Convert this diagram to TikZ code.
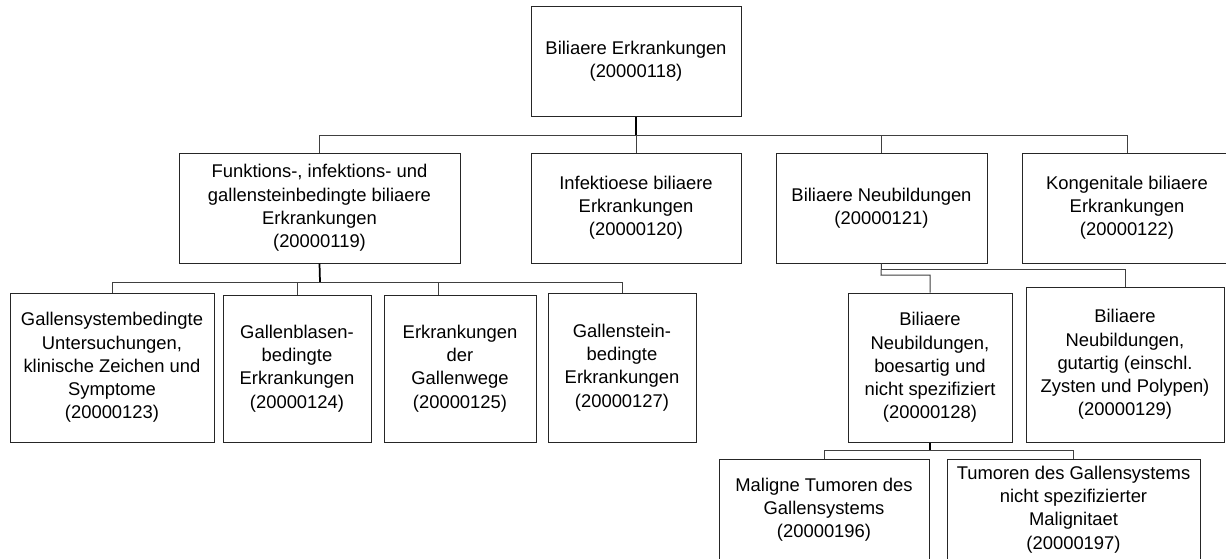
\documentclass[tikz,border=0pt]{standalone}
\usepackage{fontspec}
\setmainfont{Liberation Sans}
\usepackage{tikz}

\tikzset{
  orgbox/.style={draw=black!85, line width=0.75pt, align=center, inner sep=0pt,
    font=\fontsize{13.8}{17.4}\selectfont},
  boxsize/.style 2 args={minimum width=#1*0.75pt, minimum height=#2*0.75pt},
  link/.style={draw=black!75, line width=0.75pt},
  stem/.style={draw=black, line width=1.3pt}
}

\begin{document}
\begin{tikzpicture}[x=0.75pt,y=-0.75pt]
        \useasboundingbox (0,0) rectangle (1226,558);
        \clip (0,0) rectangle (1226,558);
        \fill[white] (0,0) rectangle (1226,558);

        \node[orgbox, boxsize={210}{110}] (root) at (636,61) {Biliaere Erkrankungen\\(20000118)};

        \node[orgbox, boxsize={281}{110}] (fkt) at (319.5,208) {Funktions-, infektions- und\\gallensteinbedingte biliaere\\Erkrankungen\\(20000119)};
        \node[orgbox, boxsize={210}{110}] (inf) at (636,208) {Infektioese biliaere\\Erkrankungen\\(20000120)};
        \node[orgbox, boxsize={211}{110}] (neu) at (881.5,208) {Biliaere Neubildungen\\(20000121)};
        \node[orgbox, boxsize={210}{110}] (kon) at (1127,208) {Kongenitale biliaere\\Erkrankungen\\(20000122)};

        \node[orgbox, boxsize={204}{149}] (b123) at (112,367.5) {Gallensystembedingte\\Untersuchungen,\\klinische Zeichen und\\Symptome\\(20000123)};
        \node[orgbox, boxsize={148}{147}] (b124) at (297,368.5) {Gallenblasen-\\bedingte\\Erkrankungen\\(20000124)};
        \node[orgbox, boxsize={152}{147}] (b125) at (460,368.5) {Erkrankungen\\der\\Gallenwege\\(20000125)};
        \node[orgbox, boxsize={148}{149}] (b127) at (622,367.5) {Gallenstein-\\bedingte\\Erkrankungen\\(20000127)};

        \node[orgbox, boxsize={164}{149}] (b128) at (930,367.5) {Biliaere\\Neubildungen,\\boesartig und\\nicht spezifiziert\\(20000128)};
        \node[orgbox, boxsize={198}{155}] (b129) at (1125,364.5) {Biliaere\\Neubildungen,\\gutartig (einschl.\\Zysten und Polypen)\\(20000129)};

        \node[orgbox, boxsize={210}{101}] (b196) at (824,509.5) {Maligne Tumoren des\\Gallensystems\\(20000196)};
        \node[orgbox, boxsize={253}{101}] (b197) at (1073.5,509.5) {Tumoren des Gallensystems\\nicht spezifizierter\\Malignitaet\\(20000197)};

        \coordinate (bus1) at (636,135);
        \coordinate (bus2) at (320,282);
        \coordinate (bus3) at (930,450);
        \coordinate (e129) at (881,269);
        \coordinate (e128) at (881,275);
        \coordinate (t125) at (438,295);

        \draw[stem] (root.south) -- (bus1);
        \draw[link] (fkt.north) -- (fkt.north |- bus1) -| (kon.north);
        \draw[link] (bus1) -- (inf.north);
        \draw[link] (bus1 -| neu.north) -- (neu.north);

        \draw[stem] (fkt.south) -- (bus2);
        \draw[link] (b123.north) -- (b123.north |- bus2) -| (b127.north);
        \draw[link] (bus2 -| b124.north) -- (b124.north);
        \draw[link] (t125 |- bus2) -- (t125);

        \draw[link] (neu.south) -- (e128) -| (b128.north);
        \draw[link] (e129) -| (b129.north);

        \draw[stem] (b128.south) -- (bus3);
        \draw[link] (b196.north) -- (b196.north |- bus3) -| (b197.north);
\end{tikzpicture}
\end{document}
